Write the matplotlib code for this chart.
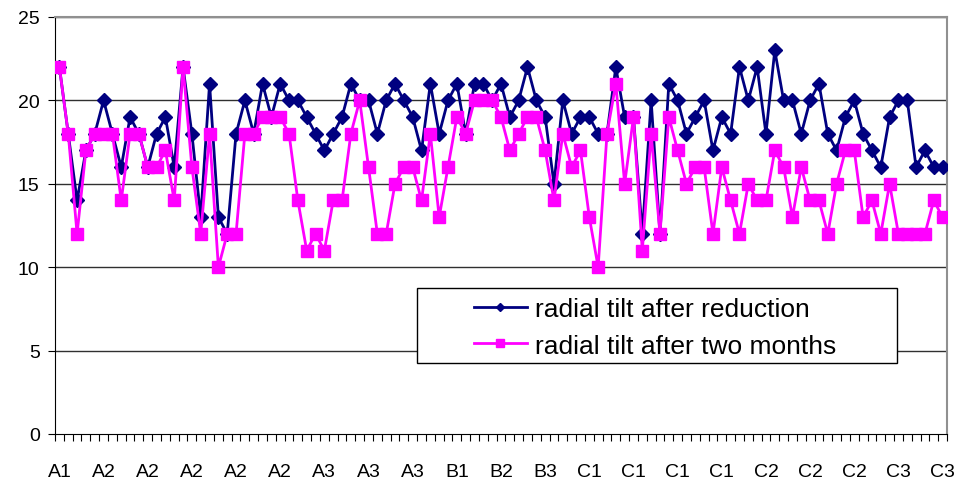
import matplotlib.pyplot as plt
from matplotlib.patches import Rectangle
import numpy as np

plt.rcParams['font.family'] = ['Liberation Sans', 'DejaVu Sans']

# x axis labels, one every 5 cases
tick_labels = ["A1", "A2", "A2", "A2", "A2", "A2", "A3", "A3", "A3", "B1", "B2",
               "B3", "C1", "C1", "C1", "C1", "C2", "C2", "C2", "C3", "C3"]

after_reduction = [22, 18, 14, 17, 18, 20, 18, 16, 19, 18,
                   16, 18, 19, 16, 22, 18, 13, 21, 13, 12,
                   18, 20, 18, 21, 19, 21, 20, 20, 19, 18,
                   17, 18, 19, 21, 20, 20, 18, 20, 21, 20,
                   19, 17, 21, 18, 20, 21, 18, 21, 21, 20,
                   21, 19, 20, 22, 20, 19, 15, 20, 18, 19,
                   19, 18, 18, 22, 19, 19, 12, 20, 12, 21,
                   20, 18, 19, 20, 17, 19, 18, 22, 20, 22,
                   18, 23, 20, 20, 18, 20, 21, 18, 17, 19,
                   20, 18, 17, 16, 19, 20, 20, 16, 17, 16,
                   16]

after_two_months = [22, 18, 12, 17, 18, 18, 18, 14, 18, 18,
                    16, 16, 17, 14, 22, 16, 12, 18, 10, 12,
                    12, 18, 18, 19, 19, 19, 18, 14, 11, 12,
                    11, 14, 14, 18, 20, 16, 12, 12, 15, 16,
                    16, 14, 18, 13, 16, 19, 18, 20, 20, 20,
                    19, 17, 18, 19, 19, 17, 14, 18, 16, 17,
                    13, 10, 18, 21, 15, 19, 11, 18, 12, 19,
                    17, 15, 16, 16, 12, 16, 14, 12, 15, 14,
                    14, 17, 16, 13, 16, 14, 14, 12, 15, 17,
                    17, 13, 14, 12, 15, 12, 12, 12, 12, 14,
                    13]

x = np.arange(len(after_reduction))

fig = plt.figure(figsize=(9.59, 4.85), dpi=100)
ax = fig.add_axes([55 / 959, 50 / 485, 892 / 959, 417 / 485])

for yv in [5, 10, 15, 20, 25]:
    ax.axhline(yv, color='#303030', lw=1, zorder=1)

ax.plot(x, after_reduction, color='#000080', lw=2, marker='D', markersize=7,
        label='radial tilt after reduction', zorder=3)
ax.plot(x, after_two_months, color='#FF00FF', lw=2, marker='s', markersize=9,
        label='radial tilt after two months', zorder=4)

ax.set_xlim(-0.5, len(x) - 0.5)
ax.set_ylim(0, 25)
ax.set_yticks([0, 5, 10, 15, 20, 25])

# tick marks between categories, labels every 5 categories
ax.set_xticks(np.arange(len(x) + 1) - 0.5)
ax.set_xticklabels([])
ax.set_xticks(np.arange(0, len(x), 5), minor=True)
ax.set_xticklabels(tick_labels, minor=True)
ax.tick_params(axis='x', which='major', length=5, direction='out', color='black')
ax.tick_params(axis='x', which='minor', length=0, pad=21, labelsize=14)
ax.tick_params(axis='y', length=5, direction='out', labelsize=14, pad=6)

for s in ['top', 'right']:
    ax.spines[s].set_color('#909090')
    ax.spines[s].set_linewidth(1.5)
ax.spines['left'].set_color('black')
ax.spines['bottom'].set_color('black')

# legend box (wider than its content, like the excel one)
box = Rectangle((362 / 892, 71 / 417), 480 / 892, 75 / 417, transform=ax.transAxes,
                facecolor='white', edgecolor='black', lw=1, zorder=6)
ax.add_patch(box)
leg = ax.legend(loc='upper left', bbox_to_anchor=(419 / 892, 137 / 417),
                borderaxespad=0, borderpad=0, fontsize=19, frameon=False,
                handlelength=2.0, handletextpad=0.3, labelspacing=0.48, markerscale=0.65)
leg.set_zorder(7)

plt.savefig('out.png', dpi=100)
